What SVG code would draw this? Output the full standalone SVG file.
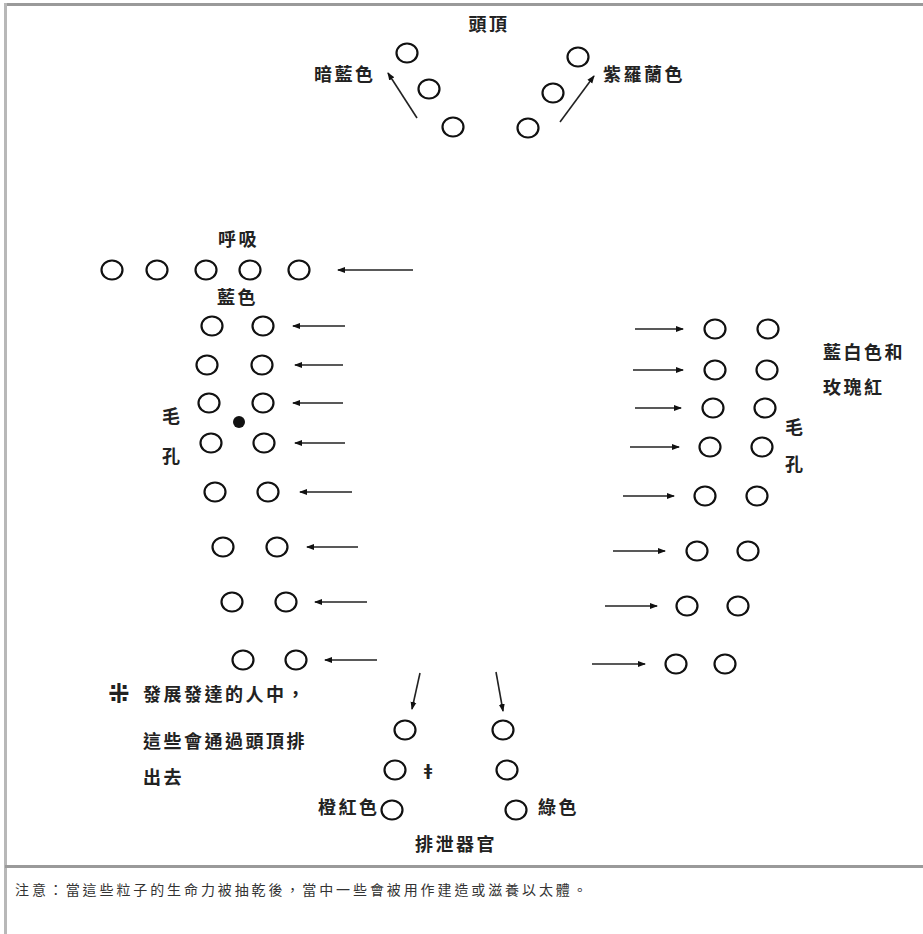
<svg xmlns="http://www.w3.org/2000/svg" width="923" height="934" viewBox="0 0 923 934">
<style>
.c{fill:none;stroke:#111;stroke-width:2.2}
.a{stroke:#222;stroke-width:1.6;fill:none;marker-end:url(#ah)}
.t{font-family:"Noto Sans CJK TC","Noto Sans CJK SC","DejaVu Sans",sans-serif;font-size:18px;font-weight:bold;fill:#222;letter-spacing:2.5px}
.n{font-family:"Noto Sans CJK TC","Noto Sans CJK SC",sans-serif;font-size:14px;fill:#333;letter-spacing:2.9px}
</style>
<defs>
<marker id="ah" markerUnits="userSpaceOnUse" markerWidth="8" markerHeight="7" refX="7" refY="3.5" orient="auto">
<path d="M0,0.5 L8,3.5 L0,6.5 z" fill="#111"/>
</marker>
</defs>
<rect width="923" height="934" fill="#fff"/>
<g id="frame">
<rect x="5" y="3" width="918" height="3" fill="#9a9a9a"/>
<rect x="4" y="3" width="3" height="931" fill="#b8b8b8"/>
<rect x="5" y="865" width="918" height="3" fill="#9a9a9a"/>
</g>
<g id="connectors">
<line class="a" x1="417" y1="118" x2="388" y2="73"/>
<line class="a" x1="560" y1="122" x2="594" y2="76"/>
<line class="a" x1="413" y1="270" x2="338" y2="270"/>
<line class="a" x1="345" y1="326" x2="293" y2="326"/>
<line class="a" x1="343" y1="365" x2="295" y2="365"/>
<line class="a" x1="343" y1="403" x2="293" y2="403"/>
<line class="a" x1="345" y1="443" x2="295" y2="443"/>
<line class="a" x1="352" y1="492" x2="300" y2="492"/>
<line class="a" x1="358" y1="547" x2="307" y2="547"/>
<line class="a" x1="367" y1="602" x2="315" y2="602"/>
<line class="a" x1="377" y1="660" x2="325" y2="660"/>
<line class="a" x1="635" y1="329" x2="683" y2="329"/>
<line class="a" x1="633" y1="370" x2="683" y2="370"/>
<line class="a" x1="635" y1="408" x2="681" y2="408"/>
<line class="a" x1="630" y1="447" x2="679" y2="447"/>
<line class="a" x1="623" y1="496" x2="674" y2="496"/>
<line class="a" x1="613" y1="551" x2="665" y2="551"/>
<line class="a" x1="605" y1="606" x2="657" y2="606"/>
<line class="a" x1="592" y1="664" x2="645" y2="664"/>
<line class="a" x1="420" y1="673" x2="412" y2="709"/>
<line class="a" x1="496" y1="672" x2="503" y2="711"/>
</g>
<g id="top-circles">
<g id="t1"><ellipse class="c" cx="407" cy="53" rx="10.5" ry="9.5"/></g>
<g id="t2"><ellipse class="c" cx="429" cy="89" rx="10.5" ry="9.5"/></g>
<g id="t3"><ellipse class="c" cx="453" cy="127" rx="10.5" ry="9.5"/></g>
<g id="t4"><ellipse class="c" cx="528" cy="128" rx="10.5" ry="9.5"/></g>
<g id="t5"><ellipse class="c" cx="553" cy="93" rx="10.5" ry="9.5"/></g>
<g id="t6"><ellipse class="c" cx="578" cy="57" rx="10.5" ry="9.5"/></g>
</g>
<g id="breath-row">
<g id="b1"><ellipse class="c" cx="112" cy="270" rx="10.5" ry="9.5"/></g>
<g id="b2"><ellipse class="c" cx="157" cy="270" rx="10.5" ry="9.5"/></g>
<g id="b3"><ellipse class="c" cx="206" cy="270" rx="10.5" ry="9.5"/></g>
<g id="b4"><ellipse class="c" cx="250" cy="270" rx="10.5" ry="9.5"/></g>
<g id="b5"><ellipse class="c" cx="299" cy="270" rx="10.5" ry="9.5"/></g>
</g>
<g id="left-circles">
<g id="l1a"><ellipse class="c" cx="212" cy="326" rx="10.5" ry="9.5"/></g>
<g id="l1b"><ellipse class="c" cx="263" cy="326" rx="10.5" ry="9.5"/></g>
<g id="l2a"><ellipse class="c" cx="207" cy="365" rx="10.5" ry="9.5"/></g>
<g id="l2b"><ellipse class="c" cx="262" cy="365" rx="10.5" ry="9.5"/></g>
<g id="l3a"><ellipse class="c" cx="209" cy="403" rx="10.5" ry="9.5"/></g>
<g id="l3b"><ellipse class="c" cx="263" cy="403" rx="10.5" ry="9.5"/></g>
<g id="l4a"><ellipse class="c" cx="211" cy="443" rx="10.5" ry="9.5"/></g>
<g id="l4b"><ellipse class="c" cx="264" cy="443" rx="10.5" ry="9.5"/></g>
<g id="l5a"><ellipse class="c" cx="215" cy="492" rx="10.5" ry="9.5"/></g>
<g id="l5b"><ellipse class="c" cx="268" cy="492" rx="10.5" ry="9.5"/></g>
<g id="l6a"><ellipse class="c" cx="223" cy="547" rx="10.5" ry="9.5"/></g>
<g id="l6b"><ellipse class="c" cx="277" cy="547" rx="10.5" ry="9.5"/></g>
<g id="l7a"><ellipse class="c" cx="232" cy="602" rx="10.5" ry="9.5"/></g>
<g id="l7b"><ellipse class="c" cx="286" cy="602" rx="10.5" ry="9.5"/></g>
<g id="l8a"><ellipse class="c" cx="243" cy="660" rx="10.5" ry="9.5"/></g>
<g id="l8b"><ellipse class="c" cx="296" cy="660" rx="10.5" ry="9.5"/></g>
<g id="pore-dot"><circle cx="239" cy="422" r="6" fill="#111"/></g>
</g>
<g id="right-circles">
<g id="r1a"><ellipse class="c" cx="715" cy="329" rx="10.5" ry="9.5"/></g>
<g id="r1b"><ellipse class="c" cx="768" cy="329" rx="10.5" ry="9.5"/></g>
<g id="r2a"><ellipse class="c" cx="715" cy="370" rx="10.5" ry="9.5"/></g>
<g id="r2b"><ellipse class="c" cx="767" cy="370" rx="10.5" ry="9.5"/></g>
<g id="r3a"><ellipse class="c" cx="713" cy="408" rx="10.5" ry="9.5"/></g>
<g id="r3b"><ellipse class="c" cx="765" cy="408" rx="10.5" ry="9.5"/></g>
<g id="r4a"><ellipse class="c" cx="710" cy="447" rx="10.5" ry="9.5"/></g>
<g id="r4b"><ellipse class="c" cx="762" cy="447" rx="10.5" ry="9.5"/></g>
<g id="r5a"><ellipse class="c" cx="705" cy="496" rx="10.5" ry="9.5"/></g>
<g id="r5b"><ellipse class="c" cx="757" cy="496" rx="10.5" ry="9.5"/></g>
<g id="r6a"><ellipse class="c" cx="697" cy="551" rx="10.5" ry="9.5"/></g>
<g id="r6b"><ellipse class="c" cx="748" cy="551" rx="10.5" ry="9.5"/></g>
<g id="r7a"><ellipse class="c" cx="687" cy="606" rx="10.5" ry="9.5"/></g>
<g id="r7b"><ellipse class="c" cx="738" cy="606" rx="10.5" ry="9.5"/></g>
<g id="r8a"><ellipse class="c" cx="676" cy="664" rx="10.5" ry="9.5"/></g>
<g id="r8b"><ellipse class="c" cx="725" cy="664" rx="10.5" ry="9.5"/></g>
</g>
<g id="excretion-circles">
<g id="e1a"><ellipse class="c" cx="405" cy="730" rx="10.5" ry="9.5"/></g>
<g id="e1b"><ellipse class="c" cx="503" cy="730" rx="10.5" ry="9.5"/></g>
<g id="e2a"><ellipse class="c" cx="395" cy="770" rx="10.5" ry="9.5"/></g>
<g id="e2b"><ellipse class="c" cx="507" cy="770" rx="10.5" ry="9.5"/></g>
<g id="e3a"><ellipse class="c" cx="392" cy="810" rx="10.5" ry="9.5"/></g>
<g id="e3b"><ellipse class="c" cx="516" cy="810" rx="10.5" ry="9.5"/></g>
</g>
<g id="labels">
<text class="t" x="489" y="31" text-anchor="middle">頭頂</text>
<text class="t" x="314" y="81">暗藍色</text>
<text class="t" x="603" y="81">紫羅蘭色</text>
<text class="t" x="218" y="246">呼吸</text>
<text class="t" x="217" y="304">藍色</text>
<text class="t" x="162" y="423">毛</text>
<text class="t" x="162" y="463">孔</text>
<text class="t" x="823" y="359">藍白色和</text>
<text class="t" x="823" y="394">玫瑰紅</text>
<text class="t" x="785" y="434">毛</text>
<text class="t" x="785" y="471">孔</text>
<text class="t" x="108" y="703" style="font-family:'DejaVu Sans',sans-serif;font-size:26px;letter-spacing:0">⁜</text>
<text class="t" x="143" y="701">發展發達的人中，</text>
<text class="t" x="143" y="748">這些會通過頭頂排</text>
<text class="t" x="143" y="784">出去</text>
<text class="t" x="424" y="776" style="font-family:'DejaVu Sans',sans-serif;font-size:15px;letter-spacing:0">ǂ</text>
<text class="t" x="318" y="814">橙紅色</text>
<text class="t" x="538" y="814">綠色</text>
<text class="t" x="415" y="851">排泄器官</text>
<text class="n" x="15" y="895">注意：當這些粒子的生命力被抽乾後，當中一些會被用作建造或滋養以太體。</text>
</g>
</svg>
